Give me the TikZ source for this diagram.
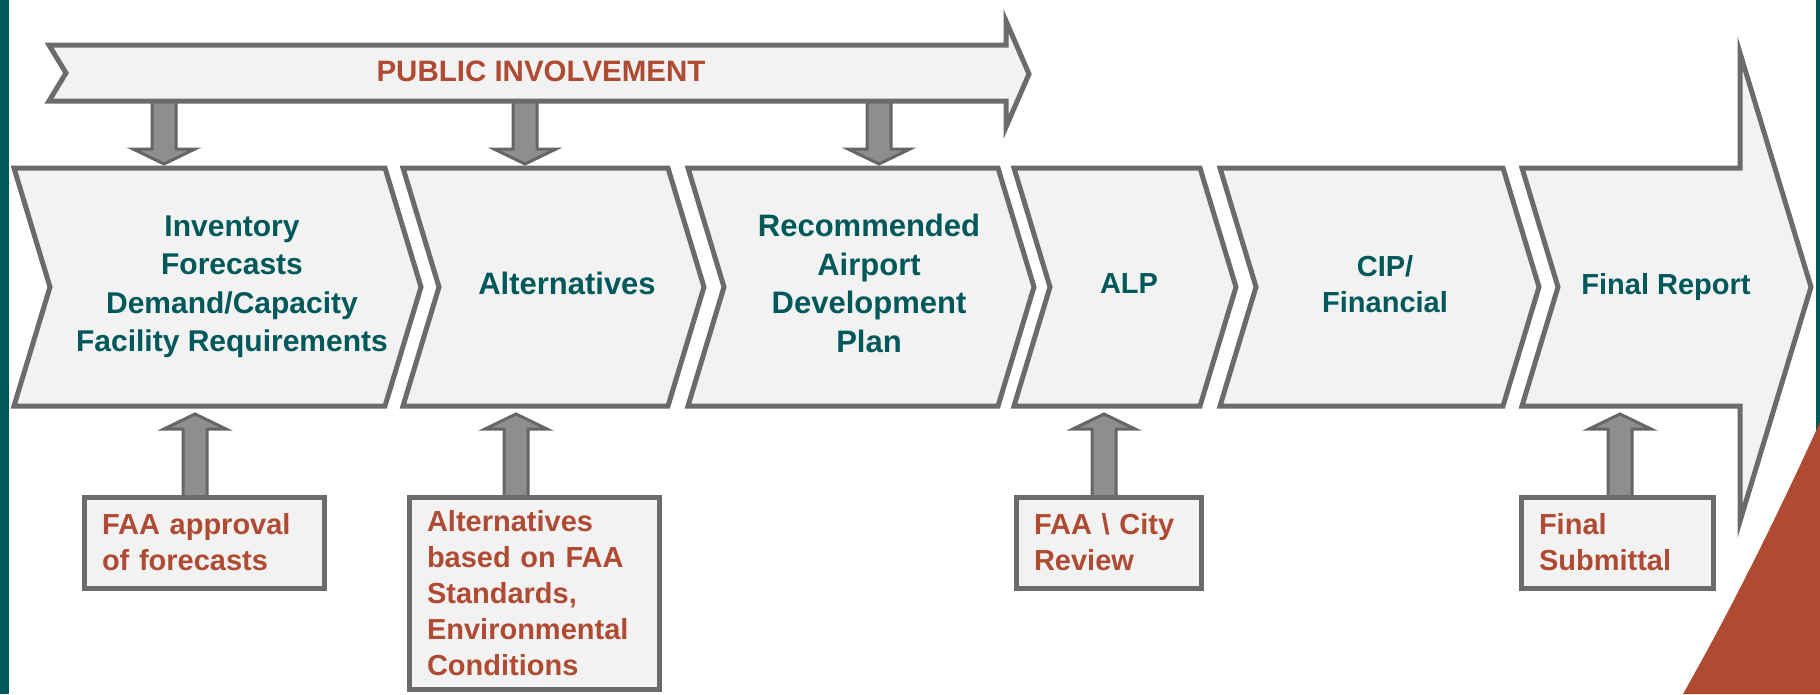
\documentclass[tikz,border=0pt]{standalone}
\usepackage{fontspec}
\setmainfont{Liberation Sans}
\usetikzlibrary{calc}
\definecolor{darkteal}{HTML}{00585A}
\definecolor{rust}{HTML}{AF4B33}
\definecolor{boxline}{HTML}{6B6B6B}
\definecolor{boxfill}{HTML}{F2F2F2}
\definecolor{arrowline}{HTML}{666666}
\definecolor{arrowfill}{HTML}{8E8E8E}
\pgfdeclarelayer{background}
\pgfsetlayers{background,main}
\newcommand{\blockarrow}[3][4]{%
  \coordinate (tip) at ($(#3)!#1pt!(#2)$);
  \coordinate (hb) at ($(#3)!#1pt+15pt!(#2)$);
  \draw [blockarr] ($(#2)!12pt!90:(tip)$) -- ($(hb)!12pt!90:(tip)$)
    -- ($(hb)!31pt!90:(tip)$) -- (tip) -- ($(hb)!31pt!-90:(tip)$)
    -- ($(hb)!12pt!-90:(tip)$) -- ($(#2)!12pt!-90:(tip)$) -- cycle;
}

\begin{document}
\begin{tikzpicture}[x=1pt, y=-1pt,
stageline/.style = {draw=boxline, line width=5pt, fill=boxfill, line join=miter},
stagetext/.style = {align=center, text=darkteal, minimum height=238pt,
  text depth=7pt, inner sep=0pt, outer sep=0pt,
  font=\bfseries\fontsize{31}{38.5}\selectfont},
smallstage/.style = {stagetext, font=\bfseries\fontsize{29}{36}\selectfont},
note/.style = {draw=boxline, line width=5pt, fill=boxfill, text=rust,
  align=left, inner xsep=18pt, inner ysep=0pt, outer sep=0pt,
  font=\bfseries\fontsize{29}{36}\selectfont},
blockarr/.style = {draw=arrowline, line width=3pt, fill=arrowfill, line join=miter}
]
\useasboundingbox (0,0) rectangle (1820,694);
\fill [darkteal] (0,0) rectangle (9,694);
\fill [darkteal] (1816,0) rectangle (1820,694);
\fill [rust] (1820,422) .. controls (1779,512) and (1734,604) .. (1683,694)
  -- (1820,694) -- cycle;

\draw [stageline] (49,45) -- (1006,45) -- (1006,21) -- (1029,74) -- (1006,127)
  -- (1006,101) -- (49,101) -- (66,73) -- cycle;
\node [text=rust, inner sep=0pt, outer sep=0pt, minimum height=56pt, text depth=4pt,
  font=\bfseries\fontsize{29.5}{35}\selectfont] (pub) at (541,73) {PUBLIC INVOLVEMENT};

\foreach \l/\r in {14/385, 403/668, 688/998, 1014/1200, 1220/1503}
  \draw [stageline] (\l,168) -- (\r,168) -- (\r+36,287) -- (\r,406) -- (\l,406)
    -- (\l+36,287) -- cycle;
\draw [stageline] (1522,168) -- (1740,168) -- (1740,53) -- (1811,287) -- (1740,521)
  -- (1740,406) -- (1522,406) -- (1558,287) -- cycle;

\node [stagetext, font=\bfseries\fontsize{30}{38.5}\selectfont] (inv) at (232,287)
  {Inventory\\Forecasts\\Demand/Capacity\\Facility Requirements};
\node [stagetext] (alt) at (567,287) {Alternatives};
\node [stagetext] (radp) at (869,287) {Recommended\\Airport\\Development\\Plan};
\node [smallstage] (alp) at (1129,287) {ALP};
\node [smallstage] (cip) at (1385,287) {CIP/\\Financial};
\node [smallstage] (fin) at (1666,287) {Final Report};

\node [note, text width=204pt, minimum height=91pt] (faa) at (204,542.5) {FAA approval\\of forecasts};
\node [note, text width=214pt, minimum height=192pt] (altbox) at (534,593)
  {Alternatives\\based on FAA\\Standards,\\Environmental\\Conditions};
\node [note, text width=149pt, minimum height=91pt] (review) at (1108.5,542.5) {FAA \textbackslash{} City\\Review};
\node [note, text width=156pt, minimum height=91pt] (submit) at (1617,542.5) {Final\\Submittal};

\coordinate (a1) at (164,0);
\coordinate (a2) at (525,0);
\coordinate (a3) at (879,0);
\coordinate (u1) at (195,0);
\coordinate (u2) at (516,0);
\coordinate (u3) at (1104,0);
\coordinate (u4) at (1620,0);

\begin{pgfonlayer}{background}
\fill [white] (0,0) rectangle (1820,694);
\blockarrow{pub.south -| a1}{inv.north -| a1}
\blockarrow{pub.south -| a2}{alt.north -| a2}
\blockarrow{pub.south -| a3}{radp.north -| a3}
\blockarrow[8]{faa.north -| u1}{inv.south -| u1}
\blockarrow[8]{altbox.north -| u2}{alt.south -| u2}
\blockarrow[8]{review.north -| u3}{alp.south -| u3}
\blockarrow[8]{submit.north -| u4}{fin.south -| u4}
\end{pgfonlayer}
\end{tikzpicture}
\end{document}
